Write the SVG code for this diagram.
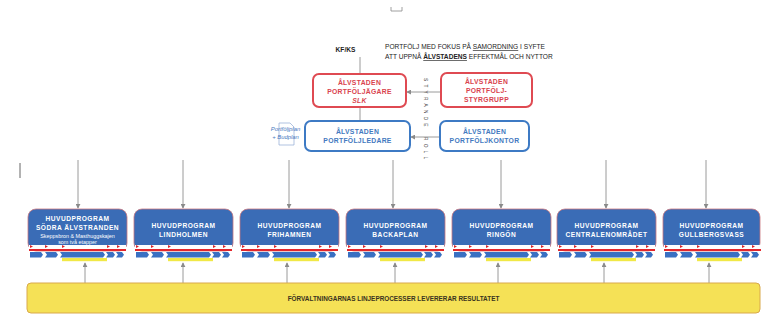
<svg xmlns="http://www.w3.org/2000/svg" xmlns:xlink="http://www.w3.org/1999/xlink" width="762" height="332" viewBox="0 0 762 332">
<style>
  text { font-family: "Liberation Sans", Arial, sans-serif; }
  .hdr { font-size: 6.6px; fill: #222; }
  .red { fill: #fff; stroke: #df4a52; stroke-width: 2; }
  .blu { fill: #fff; stroke: #3d7ac4; stroke-width: 2; }
  .rt { font-size: 6.8px; font-weight: bold; fill: #d9434e; text-anchor: middle; letter-spacing: 0.3px; }
  .bt { font-size: 6.8px; font-weight: bold; fill: #4379c0; text-anchor: middle; letter-spacing: 0.3px; }
  .pb { fill: #3a6cb6; stroke: #c9767e; stroke-width: 0.8; }
  .pt { font-size: 6.6px; font-weight: bold; fill: #fff; text-anchor: middle; letter-spacing: 0.5px; }
  .ps { font-size: 5.4px; fill: #fff; text-anchor: middle; }
  .con { stroke: #9a9a9a; stroke-width: 1; fill: none; }
  .doc { font-size: 5.9px; font-style: italic; fill: #4a78c0; text-anchor: middle; }
</style>
<defs>
  <marker id="ah" viewBox="0 0 6 6" refX="5" refY="3" markerWidth="5" markerHeight="5" orient="auto">
    <path d="M0,0 L6,3 L0,6 z" fill="#8a8a8a"/>
  </marker>
  <g id="strip">
    <rect x="1" y="245" width="97" height="4" fill="#fff"/>
    <path d="M2,245 l3,1.5 l-3,1.5 z M17,245 l3,1.5 l-3,1.5 z M34,245 l3,1.5 l-3,1.5 z M79,245 l3,1.5 l-3,1.5 z M89,245 l3,1.5 l-3,1.5 z" fill="#d8262c"/>
    <rect x="1" y="249" width="97" height="2" fill="#e3262b"/>
    <g fill="#3a70c2">
      <polygon points="2,252 13,252 15,254.8 13,257.5 2,257.5"/>
      <polygon points="17,252 28,252 30,254.8 28,257.5 17,257.5 19,254.8"/>
      <polygon points="32,252 75,252 77,254.8 75,257.5 32,257.5 34,254.8"/>
      <polygon points="78,252 85,252 87,254.8 85,257.5 78,257.5 80,254.8"/>
      <polygon points="88,252 94,252 96,254.8 94,257.5 88,257.5 90,254.8"/>
    </g>
    <rect x="34" y="258" width="45" height="3.2" fill="#f1e846"/>
  </g>
</defs>

<!-- small marks -->
<path d="M391,7 v4 h11 v-4" stroke="#888" stroke-width="0.8" fill="none"/>
<line x1="20" y1="163" x2="20" y2="178" stroke="#666" stroke-width="1"/>

<!-- header text -->
<g id="header">
  <text x="345.5" y="52" class="hdr" font-weight="bold" text-anchor="middle">KF/KS</text>
  <text x="385" y="49" class="hdr">PORTFÖLJ MED FOKUS PÅ <tspan text-decoration="underline">SAMORDNING</tspan> I SYFTE</text>
  <text x="385" y="59" class="hdr">ATT UPPNÅ <tspan font-weight="bold" text-decoration="underline">ÅLVSTADENS</tspan> EFFEKTMÅL OCH NYTTOR</text>
</g>

<!-- connectors -->
<g id="connectors">
  <line class="con" x1="360" y1="57" x2="360" y2="74"/>
  <line class="con" x1="360" y1="107" x2="360" y2="121"/>
  <line class="con" x1="441" y1="92" x2="407" y2="92" marker-end="url(#ah)"/>
  <line class="con" x1="440" y1="137" x2="411" y2="137" marker-end="url(#ah)"/>
  <line class="con" x1="78" y1="160" x2="78" y2="208" marker-end="url(#ah)"/>
  <line class="con" x1="183" y1="160" x2="183" y2="208" marker-end="url(#ah)"/>
  <line class="con" x1="289" y1="160" x2="289" y2="208" marker-end="url(#ah)"/>
  <line class="con" x1="393" y1="160" x2="393" y2="208" marker-end="url(#ah)"/>
  <line class="con" x1="501" y1="160" x2="501" y2="208" marker-end="url(#ah)"/>
  <line class="con" x1="606" y1="160" x2="606" y2="208" marker-end="url(#ah)"/>
  <line class="con" x1="706" y1="160" x2="706" y2="208" marker-end="url(#ah)"/>
  <line class="con" x1="85" y1="283" x2="85" y2="263" marker-end="url(#ah)"/>
  <line class="con" x1="183" y1="283" x2="183" y2="263" marker-end="url(#ah)"/>
  <line class="con" x1="287" y1="283" x2="287" y2="263" marker-end="url(#ah)"/>
  <line class="con" x1="395" y1="283" x2="395" y2="263" marker-end="url(#ah)"/>
  <line class="con" x1="498" y1="283" x2="498" y2="263" marker-end="url(#ah)"/>
  <line class="con" x1="604" y1="283" x2="604" y2="263" marker-end="url(#ah)"/>
  <line class="con" x1="709" y1="283" x2="709" y2="263" marker-end="url(#ah)"/>
</g>

<!-- vertical label -->
<g id="styrande-roll">
  <text transform="translate(424,78) rotate(90)" font-size="4.8" fill="#333" letter-spacing="3.2">STYRANDE</text>
  <text transform="translate(424,137) rotate(90)" font-size="4.8" fill="#333" letter-spacing="3.2">ROLL</text>
</g>

<g id="n-agare">
  <rect class="red" x="313" y="74" width="93" height="33" rx="6"/>
  <text class="rt" x="359.5" y="85">ÅLVSTADEN</text>
  <text class="rt" x="359.5" y="94">PORTFÖLJÄGARE</text>
  <text class="rt" x="359.5" y="102.5" font-weight="normal" font-style="italic">SLK</text>
</g>
<g id="n-styrgrupp">
  <rect class="red" x="441" y="73" width="91" height="34" rx="6"/>
  <text class="rt" x="486.5" y="84">ÅLVSTADEN</text>
  <text class="rt" x="486.5" y="93">PORTFÖLJ-</text>
  <text class="rt" x="486.5" y="102">STYRGRUPP</text>
</g>
<g id="n-ledare">
  <rect class="blu" x="305" y="121" width="105" height="30" rx="6"/>
  <text class="bt" x="357.5" y="134">ÅLVSTADEN</text>
  <text class="bt" x="357.5" y="143">PORTFÖLJLEDARE</text>
</g>
<g id="n-kontor">
  <rect class="blu" x="440" y="121" width="89" height="30" rx="6"/>
  <text class="bt" x="484.5" y="134">ÅLVSTADEN</text>
  <text class="bt" x="484.5" y="143">PORTFÖLJKONTOR</text>
</g>
<g id="n-plan">
  <path d="M279,123 h11 l4,4 v18 h-15 z" fill="#fff" stroke="#8fa9d4" stroke-width="0.7"/>
  <text class="doc" x="285.5" y="131">Portföljplan</text>
  <text class="doc" x="285.5" y="139">+ Budplan</text>
</g>

<!-- program boxes -->
<g id="p-sodra">
  <rect class="pb" x="28" y="209" width="99" height="42" rx="8"/>
  <use xlink:href="#strip" href="#strip" x="28"/>
  <text class="pt" x="77.5" y="221">HUVUDPROGRAM</text>
  <text class="pt" x="77.5" y="230" font-size="7.2">SÖDRA ÄLVSTRANDEN</text>
  <text class="ps" x="77.5" y="237.5">Skeppsbron &amp; Masthuggskajen</text>
  <text class="ps" x="77.5" y="244">som två etapper</text>
</g>
<g id="p-lindholmen">
  <rect class="pb" x="134" y="209" width="99" height="42" rx="8"/>
  <use xlink:href="#strip" href="#strip" x="134"/>
  <text class="pt" x="183.5" y="228">HUVUDPROGRAM</text>
  <text class="pt" x="183.5" y="237">LINDHOLMEN</text>
</g>
<g id="p-frihamnen">
  <rect class="pb" x="240" y="209" width="99" height="42" rx="8"/>
  <use xlink:href="#strip" href="#strip" x="240"/>
  <text class="pt" x="289.5" y="228">HUVUDPROGRAM</text>
  <text class="pt" x="289.5" y="237">FRIHAMNEN</text>
</g>
<g id="p-backaplan">
  <rect class="pb" x="346" y="209" width="99" height="42" rx="8"/>
  <use xlink:href="#strip" href="#strip" x="346"/>
  <text class="pt" x="395.5" y="228">HUVUDPROGRAM</text>
  <text class="pt" x="395.5" y="237">BACKAPLAN</text>
</g>
<g id="p-ringon">
  <rect class="pb" x="452" y="209" width="99" height="42" rx="8"/>
  <use xlink:href="#strip" href="#strip" x="452"/>
  <text class="pt" x="501.5" y="228">HUVUDPROGRAM</text>
  <text class="pt" x="501.5" y="237">RINGÖN</text>
</g>
<g id="p-central">
  <rect class="pb" x="557" y="209" width="99" height="42" rx="8"/>
  <use xlink:href="#strip" href="#strip" x="557"/>
  <text class="pt" x="606.5" y="228">HUVUDPROGRAM</text>
  <text class="pt" x="606.5" y="237">CENTRALENOMRÅDET</text>
</g>
<g id="p-gullbergsvass">
  <rect class="pb" x="663" y="209" width="97" height="42" rx="8"/>
  <use xlink:href="#strip" href="#strip" x="663"/>
  <text class="pt" x="711.5" y="228">HUVUDPROGRAM</text>
  <text class="pt" x="711.5" y="237">GULLBERGSVASS</text>
</g>

<g id="n-linje">
  <rect x="27" y="283" width="733" height="30" rx="4" fill="#f5e156" stroke="#d9a94c" stroke-width="1"/>
  <text x="393.5" y="300.5" font-size="6.4" font-weight="bold" fill="#3a3320" text-anchor="middle">FÖRVALTNINGARNAS LINJEPROCESSER LEVERERAR RESULTATET</text>
</g>
</svg>
